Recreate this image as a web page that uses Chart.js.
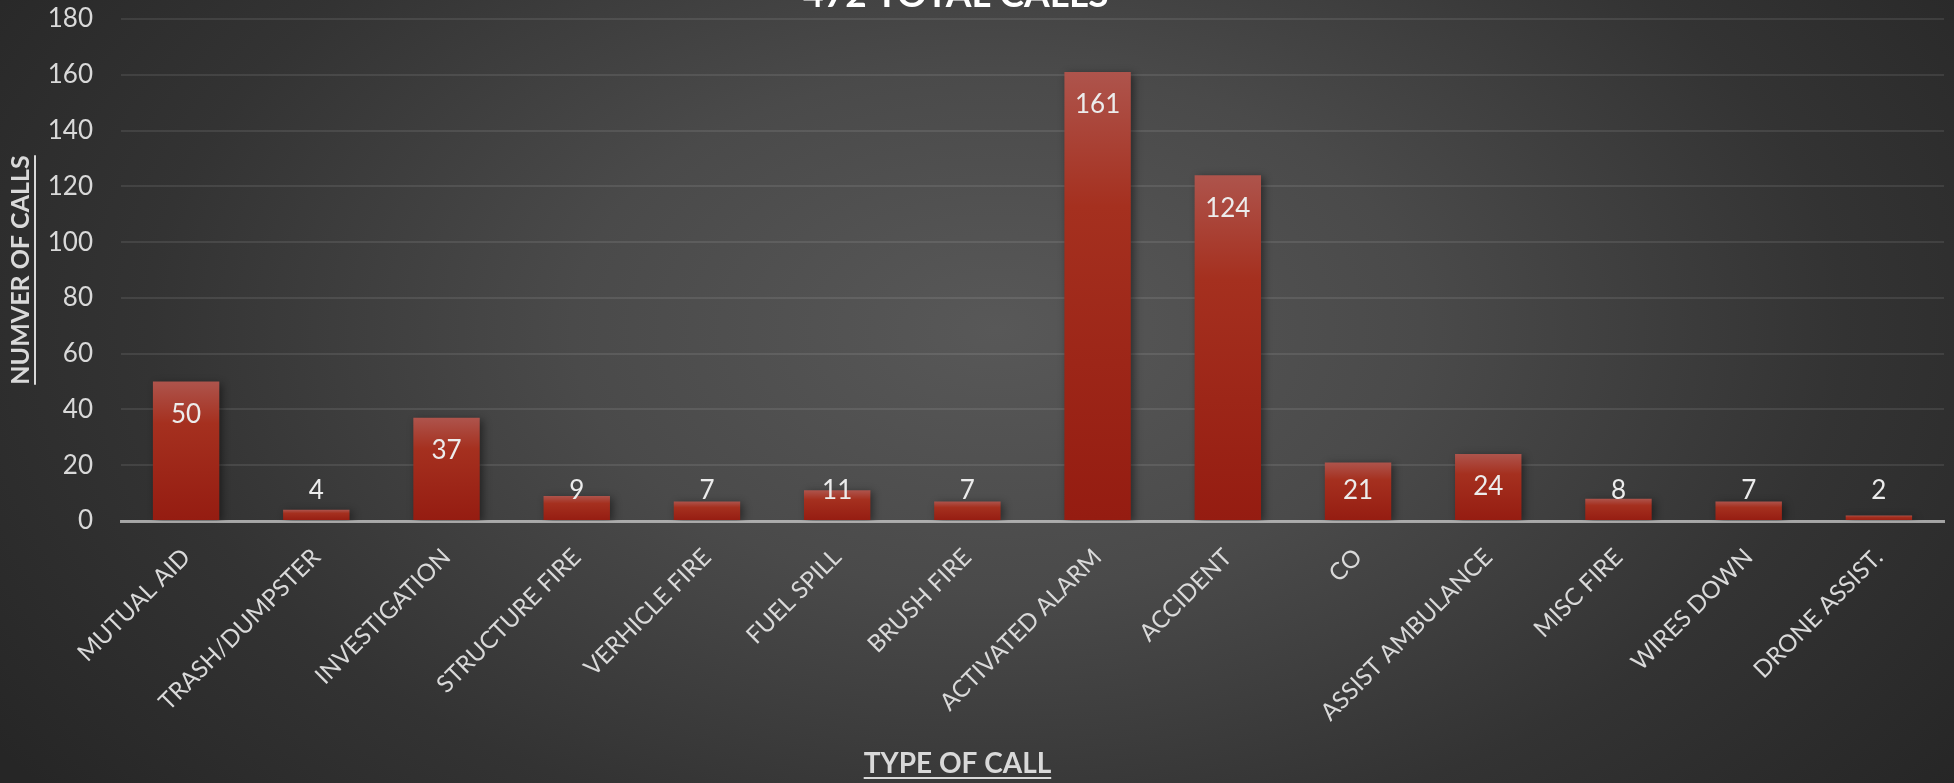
<!DOCTYPE html>
<html>
<head>
<meta charset="utf-8">
<script src="https://cdn.jsdelivr.net/npm/chart.js@4.4.1/dist/chart.umd.min.js"></script>
<style>
    html, body { margin: 0; padding: 0; }
    body {
        width: 1954px;
        height: 783px;
        overflow: hidden;
        background: radial-gradient(ellipse 62% 95% at 51% 42%, #585858 0%, #4a4a4a 35%, #333333 70%, #262626 100%);
    }
    #chartBox { position: relative; width: 1954px; height: 783px; }
</style>
</head>
<body>
<div id="chartBox"><canvas id="callsChart"></canvas></div>
<script>
var callTypes = ['MUTUAL AID', 'TRASH/DUMPSTER', 'INVESTIGATION', 'STRUCTURE FIRE', 'VERHICLE FIRE', 'FUEL SPILL',
    'BRUSH FIRE', 'ACTIVATED ALARM', 'ACCIDENT', 'CO', 'ASSIST AMBULANCE', 'MISC FIRE', 'WIRES DOWN', 'DRONE ASSIST.'];
var callCounts = [50, 4, 37, 9, 7, 11, 7, 161, 124, 21, 24, 8, 7, 2];
var yTicks = [0, 20, 40, 60, 80, 100, 120, 140, 160, 180];

var chartTitle = '472 TOTAL CALLS';
var yTitle = 'NUMVER OF CALLS';
var xTitle = 'TYPE OF CALL';

var textColor = '#d9d9d9';
var fontName = 'Lato, "Open Sans", sans-serif';

// gradient per bar, from its top down to the zero line
var barFill = function (context) {
    var chart = context.chart;
    var yScale = chart.scales.y;
    if (!yScale || context.parsed == undefined) return '#a0241a';
    var top = yScale.getPixelForValue(context.parsed.y);
    var base = yScale.getPixelForValue(0);
    if (!isFinite(top) || !isFinite(base) || base - top < 1) return '#a0241a';
    var g = chart.ctx.createLinearGradient(0, top, 0, base);
    g.addColorStop(0, '#ae544c');
    g.addColorStop(0.3, '#a5301f');
    g.addColorStop(1, '#951c11');
    return g;
};

// shadow behind the bars
var barShadow = {
    id: 'barShadow',
    beforeDatasetsDraw: function (chart) {
        var ctx = chart.ctx;
        ctx.save();
        ctx.shadowColor = 'rgba(0,0,0,0.45)';
        ctx.shadowBlur = 8;
        ctx.shadowOffsetX = 3;
        ctx.shadowOffsetY = 2;
    },
    afterDatasetsDraw: function (chart) {
        chart.ctx.restore();
    }
};

// value labels: inside the top of the bar, kept above the axis for short bars
var valueLabels = {
    id: 'valueLabels',
    afterDatasetsDraw: function (chart) {
        var ctx = chart.ctx;
        var meta = chart.getDatasetMeta(0);
        var base = chart.scales.y.getPixelForValue(0);
        ctx.save();
        ctx.font = '26px ' + fontName;
        ctx.fillStyle = '#ececec';
        ctx.textAlign = 'center';
        ctx.textBaseline = 'middle';
        meta.data.forEach(function (bar, i) {
            var y = Math.min(bar.y + 33, base - 30);
            ctx.fillText(String(callCounts[i]), bar.x, y);
        });
        ctx.restore();
    }
};

// chart title (mostly cut off by the top edge like the original) and x title
var chartTitles = {
    id: 'chartTitles',
    afterDraw: function (chart) {
        var ctx = chart.ctx;
        var cx = chart.width * 0.49;
        ctx.save();
        ctx.textAlign = 'center';
        ctx.textBaseline = 'alphabetic';

        ctx.font = 'bold 37px ' + fontName;
        ctx.fillStyle = '#ffffff';
        ctx.fillText(chartTitle, cx - 2, 7);

        ctx.font = 'bold 28px ' + fontName;
        ctx.fillStyle = textColor;
        ctx.fillText(xTitle, cx, chart.height - 10);
        var w = ctx.measureText(xTitle).width;
        ctx.strokeStyle = textColor;
        ctx.lineWidth = 2;
        ctx.beginPath();
        ctx.moveTo(cx - w / 2, chart.height - 5);
        ctx.lineTo(cx + w / 2, chart.height - 5);
        ctx.stroke();

        // y title is drawn by the scale, the underline sits on its right side
        var ys = chart.scales.y;
        var yt = ys.options.title;
        var yFont = Chart.helpers.toFont(yt.font);
        ctx.font = yFont.string;
        var yw = ctx.measureText(yTitle).width;
        var tx = ys.left + yFont.lineHeight / 2 + yt.padding.top + 14;
        var ty = (chart.chartArea.top + chart.chartArea.bottom) / 2;
        ctx.beginPath();
        ctx.moveTo(tx, ty - yw / 2);
        ctx.lineTo(tx, ty + yw / 2);
        ctx.stroke();
        ctx.restore();
    }
};

var ctx = document.getElementById('callsChart');
var callsChart = new Chart(ctx, {
    type: 'bar',
    data: {
        labels: callTypes,
        datasets: [
            {
                label: 'Calls',
                data: callCounts,
                backgroundColor: barFill,
                borderWidth: 0,
                categoryPercentage: 1,
                barPercentage: 0.51
            }
        ]
    },
    options: {
        responsive: true,
        maintainAspectRatio: false,
        animation: false,
        devicePixelRatio: 1,
        layout: {
            padding: { left: 0, right: 10, top: 3, bottom: 0 }
        },
        plugins: {
            legend: { display: false },
            tooltip: { enabled: false },
            title: { display: false }
        },
        scales: {
            x: {
                z: 1,
                grid: { display: false, drawTicks: false },
                border: { display: true, color: 'rgba(200,200,200,0.75)', width: 3 },
                ticks: {
                    color: textColor,
                    font: { family: fontName, size: 24 },
                    autoSkip: false,
                    maxRotation: 45,
                    minRotation: 45,
                    padding: 22
                },
                afterFit: function (scale) {
                    // room for the rotated labels and the x title below them
                    scale.height = 262;
                }
            },
            y: {
                min: 0,
                max: 180,
                afterBuildTicks: function (scale) {
                    scale.ticks = yTicks.map(function (v) { return { value: v }; });
                },
                grid: {
                    color: 'rgba(255,255,255,0.09)',
                    lineWidth: 2,
                    drawTicks: false
                },
                border: { display: false },
                ticks: {
                    color: textColor,
                    font: { family: fontName, size: 26 },
                    padding: 28
                },
                title: {
                    display: true,
                    text: yTitle,
                    color: textColor,
                    font: { family: fontName, size: 25, weight: 'bold' },
                    padding: { top: 6, bottom: 0 }
                },
                afterFit: function (scale) {
                    scale.width = 121;
                    scale.paddingTop = 19;
                    scale.paddingBottom = 16;
                }
            }
        }
    },
    plugins: [barShadow, valueLabels, chartTitles]
});
</script>
</body>
</html>
